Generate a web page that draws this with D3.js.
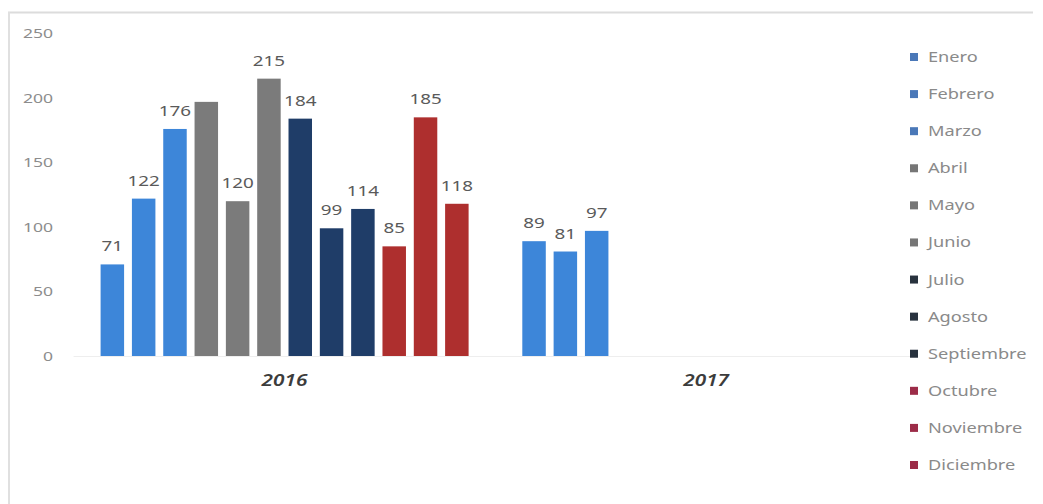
<!DOCTYPE html>
<html>
<head>
<meta charset="utf-8">
<script src="https://cdn.jsdelivr.net/npm/d3@7"></script>
<style>
  html, body { margin: 0; padding: 0; background: #ffffff; }
  svg { display: block; }
  text { font-family: "Noto Sans", "Open Sans", sans-serif; }
</style>
</head>
<body>
<svg id="chart" width="1043" height="504"></svg>
<script>
// Monthly counts per year
const years = ["2016", "2017"];
const months = ["Enero", "Febrero", "Marzo", "Abril", "Mayo", "Junio",
                "Julio", "Agosto", "Septiembre", "Octubre", "Noviembre", "Diciembre"];
const values2016 = [71, 122, 176, 197, 120, 215, 184, 99, 114, 85, 185, 118];
const values2017 = [89, 81, 97, null, null, null, null, null, null, null, null, null];
// Data labels shown above bars (Abril carries no label)
const labels2016 = [71, 122, 176, null, 120, 215, 184, 99, 114, 85, 185, 118];
const labels2017 = [89, 81, 97, null, null, null, null, null, null, null, null, null];
const yTicks = [0, 50, 100, 150, 200, 250];

const barColors = ["#3d86d9", "#3d86d9", "#3d86d9",
                   "#7b7b7b", "#7b7b7b", "#7b7b7b",
                   "#1f3d68", "#1f3d68", "#1f3d68",
                   "#ae2f2e", "#ae2f2e", "#ae2f2e"];
const legendColors = ["#4a78b8", "#4a78b8", "#4a78b8",
                      "#767676", "#767676", "#767676",
                      "#28323e", "#28323e", "#28323e",
                      "#9c2c48", "#9c2c48", "#9c2c48"];

const valuesByYear = { "2016": values2016, "2017": values2017 };
const labelsByYear = { "2016": labels2016, "2017": labels2017 };

// Text is drawn slightly widened horizontally
const WIDEN = "scale(1.3,1)";

const svg = d3.select("#chart");

// Frame lines
svg.append("line").attr("x1", 8).attr("x2", 1033).attr("y1", 12.5).attr("y2", 12.5)
  .attr("stroke", "#dcdcdc").attr("stroke-width", 2);
svg.append("line").attr("x1", 9).attr("x2", 9).attr("y1", 12).attr("y2", 504)
  .attr("stroke", "#e0e0e0").attr("stroke-width", 2);

const plot = { left: 73.6, right: 917, top: 33.5, bottom: 356 };

const x0 = d3.scaleBand().domain(years).range([plot.left, plot.right]).padding(0);
const x1 = d3.scaleBand().domain(months).range([27, 395]).paddingInner(0.25).paddingOuter(0);
const y = d3.scaleLinear().domain([0, 250]).range([plot.bottom, plot.top]);

// Y axis (labels only)
const yAxis = d3.axisLeft(y).tickValues(yTicks).tickSize(0).tickPadding(0);
const gy = svg.append("g").attr("transform", "translate(53,0)").call(yAxis);
gy.select(".domain").remove();
gy.selectAll("text").attr("fill", "#8c8c8c").attr("transform", WIDEN)
  .style("font-size", "13.5px")
  .style("font-family", "'Noto Sans', sans-serif");

// Baseline
svg.append("line").attr("x1", plot.left).attr("x2", plot.right)
  .attr("y1", y(0) + 0.5).attr("y2", y(0) + 0.5)
  .attr("stroke", "#eeeeee").attr("stroke-width", 1);

// Bars
const groups = svg.selectAll("g.year").data(years).join("g")
  .attr("class", "year")
  .attr("transform", d => `translate(${x0(d)},0)`);

groups.selectAll("rect")
  .data(yr => months.map((m, i) => ({ m, i, v: valuesByYear[yr][i] })).filter(d => d.v != null))
  .join("rect")
  .attr("x", d => x1(d.m))
  .attr("width", x1.bandwidth())
  .attr("y", d => y(d.v))
  .attr("height", d => y(0) - y(d.v))
  .attr("fill", d => barColors[d.i]);

groups.selectAll("text.lbl")
  .data(yr => months.map((m, i) => ({ m, i, v: valuesByYear[yr][i], l: labelsByYear[yr][i] })).filter(d => d.l != null))
  .join("text")
  .attr("class", "lbl")
  .attr("transform", d => `translate(${x1(d.m) + x1.bandwidth() / 2},${y(d.v) - 13}) ${WIDEN}`)
  .attr("text-anchor", "middle")
  .attr("fill", "#5a5a5a")
  .style("font-size", "14.5px")
  .text(d => d.l);

// Category axis labels
const xAxis = d3.axisBottom(x0).tickSize(0).tickPadding(0);
const gx = svg.append("g").attr("transform", `translate(0,${plot.bottom + 19})`).call(xAxis);
gx.select(".domain").remove();
gx.selectAll("text").attr("fill", "#3c3c3c").attr("transform", WIDEN)
  .style("font-size", "16px").style("font-style", "italic").style("font-weight", "600")
  .style("font-family", "'Noto Sans', sans-serif");

// Legend
const legend = svg.append("g").attr("transform", "translate(910,0)");
const ly = d3.scalePoint().domain(months).range([57, 465]);
const items = legend.selectAll("g").data(months).join("g")
  .attr("transform", d => `translate(0,${ly(d)})`);
items.append("rect").attr("x", 0).attr("y", -4).attr("width", 8).attr("height", 8)
  .attr("fill", (d, i) => legendColors[i]);
items.append("text").attr("transform", `translate(18,5) ${WIDEN}`)
  .attr("fill", "#8a8a8a").style("font-size", "14px").text(d => d);
</script>
</body>
</html>
